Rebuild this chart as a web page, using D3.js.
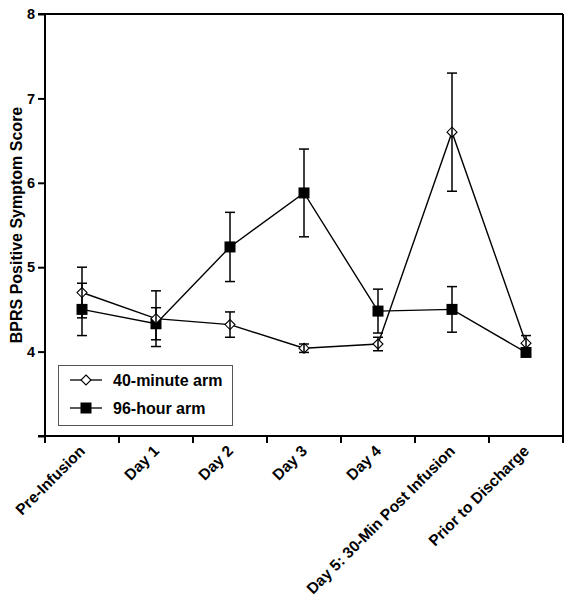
<!DOCTYPE html>
<html><head><meta charset="utf-8">
<script src="https://cdn.jsdelivr.net/npm/d3@7"></script>
<style>
html,body{margin:0;padding:0;background:#fff;}
svg{display:block;font-family:"Liberation Sans",Arial,sans-serif;}
</style></head>
<body>
<svg id="chart" width="570" height="600"></svg>
<script>
const categories = ["Pre-Infusion","Day 1","Day 2","Day 3","Day 4","Day 5: 30-Min Post Infusion","Prior to Discharge"];
const arm40 = [4.70, 4.39, 4.32, 4.04, 4.09, 6.60, 4.10];
const err40 = [0.30, 0.33, 0.15, 0.05, 0.08, 0.70, 0.09];
const arm96 = [4.50, 4.33, 5.24, 5.88, 4.48, 4.50, 3.99];
const err96 = [0.31, 0.19, 0.41, 0.52, 0.26, 0.27, 0.03];
const yTicks = [3, 4, 5, 6, 7, 8];
const seriesNames = ["40-minute arm", "96-hour arm"];
const yTitle = "BPRS Positive Symptom Score";

const svg = d3.select("#chart");
const L = 45, R = 563, T = 14, B = 436;
const x = d3.scaleBand().domain(categories).range([L, R]).padding(0);
const y = d3.scaleLinear().domain([3, 8]).range([B, T]);
const cx = c => x(c) + x.bandwidth() / 2;
const FONT = '"Liberation Sans",Arial,sans-serif';

// frame (top and right)
svg.append("line").attr("x1", L - 7).attr("x2", R).attr("y1", T).attr("y2", T)
  .attr("stroke", "#000").attr("stroke-width", 2);
svg.append("line").attr("x1", R).attr("x2", R).attr("y1", T).attr("y2", B + 7)
  .attr("stroke", "#000").attr("stroke-width", 2);

// y axis
const yAxis = d3.axisLeft(y).tickValues(yTicks).tickSize(7).tickPadding(3)
  .tickFormat(d => d === 3 ? "" : d3.format("d")(d));
const gy = svg.append("g").attr("transform", `translate(${L},0)`).call(yAxis);
gy.select(".domain").attr("d", `M-7,${T}H0V${B + 7}`).attr("stroke-width", 2);
gy.selectAll(".tick line").attr("stroke-width", 2);
gy.selectAll(".tick text").attr("font-size", 14.5).attr("font-weight", "bold")
  .attr("font-family", FONT).attr("fill", "#000");

// x axis
const xAxis = d3.axisBottom(x).tickSize(0).tickPadding(0);
const gx = svg.append("g").attr("transform", `translate(0,${B})`).call(xAxis);
gx.select(".domain").attr("d", `M${L - 7},0H${R}`).attr("stroke-width", 2);
gx.selectAll(".tick text")
  .attr("font-size", 15.5).attr("font-weight", "bold")
  .attr("font-family", FONT).attr("fill", "#000")
  .attr("text-anchor", "end").attr("y", 0).attr("dy", 0)
  .attr("transform", "translate(4,16) rotate(-45)");
// boundary ticks
const bounds = categories.map(c => x(c)).concat([x.range()[1]]);
gx.selectAll(".btick").data(bounds).enter().append("line")
  .attr("x1", d => d).attr("x2", d => d).attr("y1", 0).attr("y2", 7)
  .attr("stroke", "#000").attr("stroke-width", 2);

// y title
svg.append("text").attr("transform", `translate(22,${(T + B) / 2}) rotate(-90)`)
  .attr("text-anchor", "middle").attr("font-size", 16).attr("font-weight", "bold")
  .attr("font-family", FONT).text(yTitle);

const plot = svg.append("g");
const line = d3.line().x((d, i) => cx(categories[i])).y(d => y(d));

function drawErr(vals, errs) {
  const g = plot.append("g").attr("stroke", "#000").attr("stroke-width", 1.5);
  vals.forEach((v, i) => {
    const xc = cx(categories[i]);
    g.append("line").attr("x1", xc).attr("x2", xc).attr("y1", y(v - errs[i])).attr("y2", y(v + errs[i]));
    g.append("line").attr("x1", xc - 5).attr("x2", xc + 5).attr("y1", y(v + errs[i])).attr("y2", y(v + errs[i]));
    g.append("line").attr("x1", xc - 5).attr("x2", xc + 5).attr("y1", y(v - errs[i])).attr("y2", y(v - errs[i]));
  });
}

plot.append("path").datum(arm96).attr("d", line).attr("fill", "none").attr("stroke", "#000").attr("stroke-width", 1.4);
plot.append("path").datum(arm40).attr("d", line).attr("fill", "none").attr("stroke", "#000").attr("stroke-width", 1.4);

// 96-hour squares
plot.selectAll(".sq").data(arm96).enter().append("rect")
  .attr("x", (d, i) => cx(categories[i]) - 5.5).attr("y", d => y(d) - 5.5)
  .attr("width", 11).attr("height", 11).attr("fill", "#000");
drawErr(arm96, err96);

// 40-minute diamonds
const diamond = "M0,-5L5,0L0,5L-5,0Z";
plot.selectAll(".dm").data(arm40).enter().append("path")
  .attr("d", diamond).attr("transform", (d, i) => `translate(${cx(categories[i])},${y(d)})`)
  .attr("fill", "#fff").attr("stroke", "#000").attr("stroke-width", 1.1);
drawErr(arm40, err40);

// legend
const lg = svg.append("g");
lg.append("rect").attr("x", 58.5).attr("y", 365.5).attr("width", 174).attr("height", 60)
  .attr("fill", "#fff").attr("stroke", "#555").attr("stroke-width", 1);
const ly = [380, 408];
seriesNames.forEach((name, i) => {
  lg.append("line").attr("x1", 70).attr("x2", 102).attr("y1", ly[i]).attr("y2", ly[i])
    .attr("stroke", "#000").attr("stroke-width", 1.3);
  if (i === 0) {
    lg.append("path").attr("d", diamond).attr("transform", `translate(86,${ly[i]})`)
      .attr("fill", "#fff").attr("stroke", "#000").attr("stroke-width", 1.1);
  } else {
    lg.append("rect").attr("x", 86 - 5.5).attr("y", ly[i] - 5.5).attr("width", 11).attr("height", 11).attr("fill", "#000");
  }
  lg.append("text").attr("x", 113).attr("y", ly[i]).attr("dy", "0.36em")
    .attr("font-size", 16).attr("font-weight", "bold").attr("font-family", FONT).text(name);
});
</script>
</body></html>
